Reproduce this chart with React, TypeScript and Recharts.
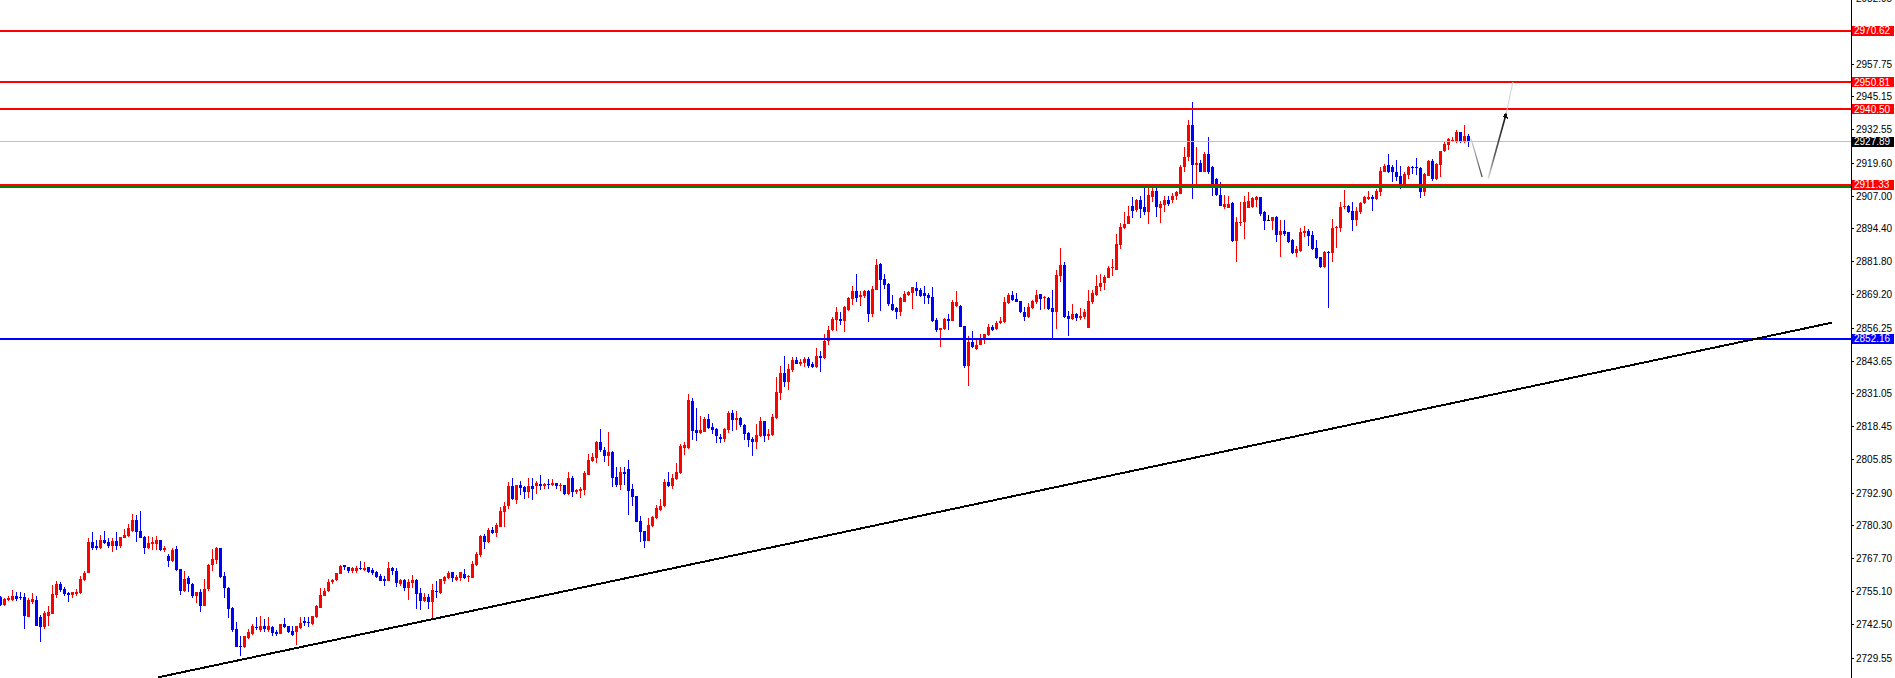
import React from "react";
import { Bar, ComposedChart, ReferenceLine, XAxis, YAxis } from "recharts";

const FONT = '"Liberation Sans", Arial, sans-serif';
const UP = "#ff0000";
const DOWN = "#0000ff";

// candles, oldest first
const opens = [
  2753.1, 2749.9, 2751.8, 2752.0, 2753.5, 2753.1, 2753.1, 2745.5, 2750.9, 2751.8,
  2745.2, 2741.6, 2745.8, 2746.4, 2753.7, 2758.0, 2756.0, 2754.4, 2753.9, 2754.0,
  2754.5, 2759.5, 2762.3, 2774.3, 2772.6, 2772.0, 2775.0, 2774.2, 2772.7, 2774.5,
  2772.7, 2775.8, 2776.5, 2778.2, 2782.5, 2778.2, 2776.1, 2771.8, 2773.3, 2773.3,
  2774.9, 2771.0, 2768.6, 2766.7, 2771.4, 2763.7, 2755.4, 2760.4, 2758.0, 2753.5,
  2755.0, 2749.4, 2756.0, 2765.4, 2767.2, 2771.7, 2761.2, 2756.4, 2748.7, 2740.7,
  2734.3, 2733.6, 2737.1, 2738.8, 2741.6, 2740.3, 2742.0, 2740.3, 2741.6, 2739.7,
  2738.8, 2742.6, 2742.0, 2739.8, 2739.7, 2741.1, 2743.8, 2743.5, 2742.6, 2745.2,
  2748.7, 2753.5, 2755.4, 2758.6, 2759.5, 2761.9, 2765.3, 2764.5, 2762.9, 2762.9,
  2764.2, 2763.5, 2764.4, 2763.4, 2762.7, 2761.2, 2759.9, 2759.2, 2764.1, 2763.1,
  2758.0, 2759.4, 2756.6, 2758.4, 2759.5, 2754.5, 2751.6, 2753.0, 2751.2, 2755.4,
  2754.5, 2759.3, 2760.3, 2762.5, 2759.6, 2760.3, 2761.8, 2760.6, 2760.3, 2765.3,
  2769.3, 2776.6, 2774.0, 2778.7, 2777.6, 2780.0, 2785.8, 2787.8, 2795.8, 2790.2,
  2796.0, 2795.4, 2793.5, 2795.8, 2795.8, 2796.4, 2795.8, 2796.4, 2796.0, 2796.7,
  2795.8, 2796.0, 2792.6, 2798.7, 2793.2, 2793.8, 2794.1, 2800.0, 2805.4, 2806.4,
  2812.7, 2809.5, 2807.3, 2808.8, 2799.0, 2796.0, 2801.1, 2802.2, 2794.5, 2791.7,
  2782.3, 2778.5, 2774.6, 2780.1, 2783.2, 2786.5, 2787.8, 2797.3, 2795.5, 2798.3,
  2800.7, 2810.1, 2810.1, 2828.4, 2817.2, 2815.9, 2816.5, 2821.4, 2818.2, 2817.6,
  2814.6, 2813.7, 2817.3, 2823.7, 2821.0, 2821.6, 2819.1, 2816.0, 2813.7, 2812.7,
  2814.7, 2820.6, 2814.7, 2815.3, 2821.6, 2831.4, 2839.1, 2835.7, 2840.3, 2844.2,
  2842.5, 2842.9, 2844.4, 2842.4, 2841.5, 2845.7, 2844.7, 2851.2, 2855.6, 2859.5,
  2859.8, 2859.2, 2863.4, 2867.5, 2870.7, 2868.1, 2868.8, 2870.7, 2861.7, 2870.9,
  2880.9, 2875.2, 2873.2, 2865.5, 2863.9, 2862.6, 2866.2, 2869.0, 2869.8, 2871.7,
  2870.9, 2869.8, 2869.0, 2868.4, 2859.4, 2855.6, 2855.9, 2859.8, 2859.2, 2864.9,
  2864.9, 2857.2, 2841.9, 2851.1, 2848.3, 2849.8, 2852.5, 2853.6, 2856.9, 2856.0,
  2858.1, 2858.5, 2866.0, 2869.2, 2867.5, 2866.6, 2862.6, 2860.4, 2864.0, 2866.2,
  2869.4, 2867.7, 2867.9, 2864.0, 2862.6, 2876.4, 2880.5, 2861.1, 2859.8, 2861.7,
  2860.2, 2860.4, 2856.4, 2866.2, 2869.2, 2872.0, 2873.5, 2875.7, 2879.3, 2878.8,
  2888.2, 2894.6, 2896.3, 2903.3, 2901.8, 2905.6, 2902.7, 2901.0, 2906.5, 2909.1,
  2902.3, 2903.6, 2905.5, 2905.6, 2906.9, 2907.8, 2918.1, 2921.9, 2934.4, 2918.9,
  2919.7, 2916.4, 2923.2, 2918.3, 2913.6, 2907.4, 2902.7, 2902.4, 2904.2, 2889.6,
  2896.6, 2896.9, 2902.4, 2902.7, 2905.6, 2906.5, 2900.8, 2897.9, 2897.6, 2899.1,
  2892.2, 2893.7, 2893.1, 2890.3, 2885.2, 2885.8, 2892.7, 2893.5, 2892.2, 2887.1,
  2883.5, 2879.6, 2885.7, 2885.2, 2894.6, 2894.6, 2902.7, 2903.3, 2901.4, 2898.0,
  2901.0, 2904.2, 2905.9, 2906.5, 2905.9, 2908.7, 2916.4, 2918.9, 2918.3, 2916.4,
  2914.9, 2911.7, 2915.1, 2918.3, 2918.3, 2917.8, 2908.7, 2914.9, 2920.6, 2913.6,
  2918.9, 2924.2, 2926.8, 2928.0, 2927.7, 2931.8, 2927.9, 2930.2,
];

const highs = [
  2753.5, 2752.5, 2753.5, 2755.7, 2755.0, 2754.8, 2754.4, 2752.7, 2754.4, 2753.2,
  2746.1, 2747.5, 2749.6, 2757.6, 2759.2, 2758.6, 2756.7, 2755.0, 2755.0, 2756.0,
  2760.9, 2763.1, 2775.5, 2777.8, 2775.0, 2776.8, 2778.3, 2775.5, 2775.5, 2777.8,
  2776.1, 2779.1, 2781.0, 2784.8, 2784.5, 2786.0, 2776.5, 2776.3, 2775.9, 2776.3,
  2775.0, 2772.7, 2769.5, 2771.7, 2772.7, 2763.7, 2763.1, 2760.9, 2758.2, 2755.0,
  2756.0, 2759.9, 2765.6, 2771.4, 2772.3, 2772.0, 2762.7, 2756.7, 2749.3, 2743.5,
  2738.1, 2738.1, 2740.7, 2742.5, 2745.2, 2745.8, 2744.5, 2745.5, 2742.0, 2740.3,
  2742.6, 2745.0, 2742.0, 2742.0, 2742.0, 2745.2, 2745.2, 2745.2, 2745.8, 2749.9,
  2756.3, 2756.3, 2759.9, 2760.1, 2762.2, 2765.3, 2765.3, 2764.5, 2764.6, 2765.0,
  2766.7, 2766.3, 2764.4, 2764.0, 2763.1, 2761.7, 2761.2, 2766.5, 2764.4, 2764.0,
  2759.9, 2759.9, 2759.9, 2761.4, 2759.9, 2756.5, 2754.5, 2754.2, 2758.0, 2759.3,
  2759.9, 2761.2, 2763.0, 2762.5, 2761.6, 2762.7, 2763.8, 2761.6, 2766.7, 2770.2,
  2776.9, 2777.2, 2779.4, 2779.8, 2781.3, 2787.4, 2789.4, 2797.0, 2798.7, 2796.0,
  2797.7, 2795.8, 2798.7, 2798.7, 2797.4, 2799.8, 2796.9, 2798.3, 2798.3, 2796.8,
  2796.7, 2796.0, 2801.0, 2799.5, 2794.5, 2795.4, 2801.3, 2807.9, 2808.3, 2813.0,
  2817.5, 2810.5, 2816.5, 2809.2, 2802.8, 2802.8, 2802.8, 2805.6, 2796.4, 2791.9,
  2784.2, 2778.5, 2783.3, 2784.2, 2788.3, 2790.6, 2798.3, 2800.9, 2800.3, 2804.5,
  2811.8, 2812.4, 2831.0, 2829.4, 2825.6, 2822.4, 2822.0, 2823.3, 2819.9, 2817.8,
  2815.6, 2817.8, 2824.3, 2824.8, 2824.6, 2822.0, 2819.5, 2816.5, 2814.6, 2819.5,
  2822.0, 2820.6, 2817.6, 2823.3, 2837.6, 2841.9, 2845.7, 2842.5, 2845.1, 2845.3,
  2844.4, 2845.3, 2845.1, 2843.1, 2848.5, 2847.6, 2854.0, 2857.0, 2860.7, 2864.3,
  2862.3, 2864.9, 2868.4, 2872.3, 2877.1, 2870.7, 2870.9, 2870.9, 2872.6, 2882.8,
  2881.5, 2877.1, 2873.5, 2869.0, 2864.3, 2868.1, 2870.7, 2870.7, 2871.9, 2873.9,
  2871.6, 2872.6, 2869.6, 2871.9, 2860.0, 2856.3, 2860.2, 2861.7, 2867.1, 2870.7,
  2865.3, 2857.2, 2853.4, 2855.3, 2852.1, 2854.0, 2854.0, 2857.9, 2857.6, 2859.2,
  2860.7, 2868.1, 2869.8, 2870.7, 2869.8, 2866.9, 2864.3, 2866.0, 2867.2, 2871.0,
  2869.4, 2868.8, 2868.1, 2871.0, 2878.6, 2887.1, 2881.6, 2862.8, 2865.6, 2862.1,
  2863.9, 2863.6, 2871.0, 2871.0, 2876.7, 2877.1, 2876.7, 2880.3, 2882.8, 2892.4,
  2896.6, 2901.0, 2903.3, 2906.5, 2905.9, 2907.2, 2911.0, 2911.0, 2911.3, 2911.0,
  2905.0, 2906.9, 2907.2, 2908.2, 2909.1, 2918.9, 2925.7, 2936.2, 2943.0, 2926.0,
  2921.0, 2923.8, 2929.8, 2918.7, 2913.8, 2912.6, 2907.4, 2906.9, 2904.6, 2898.9,
  2904.6, 2906.9, 2908.7, 2906.8, 2907.2, 2906.5, 2901.2, 2899.9, 2899.1, 2899.5,
  2898.0, 2898.0, 2893.1, 2890.5, 2888.0, 2894.6, 2895.6, 2894.4, 2893.7, 2890.3,
  2883.5, 2885.8, 2885.8, 2898.2, 2895.6, 2904.6, 2909.5, 2903.7, 2904.6, 2902.7,
  2904.6, 2906.9, 2909.1, 2907.4, 2909.7, 2918.1, 2919.3, 2923.2, 2918.9, 2921.0,
  2918.7, 2916.1, 2918.7, 2918.7, 2921.5, 2918.3, 2915.9, 2921.0, 2921.3, 2919.6,
  2924.5, 2927.7, 2929.3, 2929.6, 2932.4, 2931.8, 2934.3, 2930.9,
];

const lows = [
  2749.6, 2749.6, 2751.3, 2751.6, 2751.6, 2751.8, 2740.7, 2745.2, 2750.5, 2742.0,
  2735.8, 2740.7, 2742.0, 2746.4, 2752.5, 2754.8, 2753.2, 2751.2, 2752.5, 2753.5,
  2754.3, 2759.2, 2762.3, 2771.1, 2771.1, 2771.4, 2773.3, 2772.0, 2770.1, 2771.1,
  2771.9, 2775.5, 2775.9, 2778.1, 2774.0, 2775.5, 2769.5, 2771.4, 2771.1, 2771.1,
  2770.8, 2770.1, 2764.7, 2766.3, 2763.1, 2753.7, 2755.0, 2755.1, 2752.5, 2750.7,
  2747.3, 2749.4, 2755.4, 2763.1, 2765.6, 2760.4, 2752.5, 2744.8, 2739.4, 2733.6,
  2730.4, 2733.5, 2736.8, 2738.4, 2740.4, 2739.4, 2739.4, 2739.4, 2738.1, 2737.9,
  2738.6, 2741.1, 2739.1, 2738.1, 2734.5, 2740.7, 2741.7, 2741.3, 2742.2, 2745.0,
  2748.6, 2753.2, 2755.0, 2758.0, 2759.1, 2761.8, 2763.5, 2762.4, 2762.4, 2762.2,
  2763.5, 2763.1, 2762.2, 2761.4, 2760.4, 2759.1, 2757.3, 2759.2, 2761.4, 2756.9,
  2757.4, 2755.4, 2752.0, 2756.3, 2748.4, 2748.1, 2750.9, 2748.4, 2744.8, 2752.6,
  2754.0, 2758.1, 2759.9, 2758.9, 2759.1, 2759.1, 2759.9, 2758.9, 2760.2, 2765.0,
  2768.5, 2771.4, 2773.6, 2777.2, 2776.2, 2779.8, 2780.0, 2786.8, 2790.4, 2788.7,
  2792.2, 2790.6, 2790.9, 2790.4, 2792.6, 2794.1, 2794.5, 2794.5, 2795.8, 2794.5,
  2793.7, 2792.2, 2792.2, 2791.5, 2792.6, 2791.1, 2792.2, 2800.0, 2804.7, 2804.5,
  2808.6, 2805.0, 2803.2, 2795.4, 2795.4, 2794.2, 2796.1, 2784.5, 2787.8, 2782.0,
  2774.3, 2771.8, 2774.4, 2779.8, 2783.0, 2786.2, 2787.4, 2795.1, 2794.5, 2798.1,
  2800.3, 2807.6, 2809.9, 2813.3, 2813.1, 2815.6, 2816.3, 2817.6, 2815.6, 2812.2,
  2812.2, 2812.7, 2816.0, 2816.9, 2817.3, 2818.2, 2813.3, 2810.8, 2807.3, 2809.9,
  2814.3, 2812.7, 2813.3, 2815.0, 2821.4, 2828.8, 2833.8, 2832.7, 2839.6, 2842.5,
  2841.9, 2841.2, 2841.0, 2840.8, 2841.0, 2839.6, 2844.4, 2849.8, 2855.3, 2855.0,
  2857.6, 2854.9, 2863.0, 2865.2, 2866.2, 2864.9, 2867.7, 2858.5, 2860.4, 2870.9,
  2863.0, 2871.3, 2864.9, 2863.0, 2859.8, 2860.8, 2866.2, 2868.5, 2863.6, 2868.5,
  2868.1, 2865.5, 2865.5, 2858.8, 2854.7, 2849.2, 2855.7, 2855.7, 2859.0, 2864.6,
  2856.6, 2841.0, 2834.2, 2848.5, 2848.0, 2849.8, 2850.2, 2853.4, 2855.0, 2855.7,
  2857.8, 2858.3, 2865.6, 2866.6, 2866.2, 2862.1, 2858.9, 2860.2, 2863.6, 2865.6,
  2863.3, 2863.6, 2863.3, 2852.5, 2856.0, 2873.9, 2860.2, 2853.4, 2859.5, 2859.2,
  2859.5, 2859.8, 2856.4, 2865.6, 2868.8, 2870.7, 2871.1, 2875.4, 2876.2, 2878.6,
  2886.7, 2894.4, 2896.3, 2898.5, 2901.0, 2898.5, 2899.8, 2896.3, 2904.6, 2898.9,
  2896.7, 2901.0, 2903.3, 2904.4, 2905.6, 2907.8, 2916.1, 2920.6, 2905.9, 2911.7,
  2916.1, 2916.1, 2915.5, 2907.2, 2907.2, 2903.3, 2902.1, 2902.3, 2889.3, 2881.8,
  2895.7, 2890.5, 2902.3, 2902.4, 2902.7, 2899.5, 2894.1, 2897.6, 2894.1, 2889.3,
  2883.8, 2891.8, 2889.0, 2884.8, 2883.8, 2885.4, 2891.2, 2888.0, 2886.4, 2882.9,
  2879.3, 2879.4, 2864.0, 2881.8, 2887.0, 2893.4, 2902.1, 2900.5, 2893.7, 2895.7,
  2900.1, 2904.0, 2905.6, 2901.4, 2905.6, 2907.2, 2916.1, 2915.9, 2912.6, 2912.8,
  2909.7, 2911.0, 2913.6, 2915.5, 2915.1, 2906.2, 2906.9, 2914.6, 2912.9, 2913.3,
  2914.2, 2924.1, 2924.7, 2928.0, 2927.3, 2927.4, 2927.6, 2925.7,
];

const closes = [
  2749.9, 2752.2, 2752.6, 2753.5, 2752.2, 2752.5, 2745.8, 2751.8, 2752.2, 2742.0,
  2741.6, 2746.7, 2747.1, 2754.1, 2758.0, 2755.8, 2754.1, 2753.9, 2754.8, 2755.0,
  2759.9, 2762.4, 2774.3, 2772.0, 2771.9, 2775.0, 2773.7, 2772.7, 2774.5, 2772.7,
  2776.1, 2776.8, 2779.4, 2782.5, 2777.9, 2775.6, 2772.0, 2773.6, 2774.2, 2775.0,
  2771.1, 2772.0, 2766.9, 2771.1, 2763.5, 2755.4, 2759.9, 2758.0, 2753.5, 2755.0,
  2749.6, 2756.0, 2765.4, 2767.6, 2771.7, 2760.8, 2756.3, 2748.4, 2740.3, 2733.9,
  2733.9, 2737.9, 2739.7, 2742.0, 2740.9, 2742.0, 2740.7, 2742.0, 2739.1, 2738.9,
  2742.5, 2741.6, 2739.7, 2738.5, 2742.0, 2743.2, 2743.2, 2743.0, 2745.8, 2749.4,
  2753.7, 2755.4, 2758.6, 2759.6, 2762.2, 2765.0, 2764.4, 2762.8, 2764.0, 2764.2,
  2763.7, 2764.2, 2762.7, 2762.2, 2760.8, 2759.2, 2759.2, 2764.1, 2762.9, 2758.2,
  2759.5, 2756.6, 2758.9, 2759.6, 2754.2, 2751.6, 2753.0, 2751.2, 2755.8, 2755.0,
  2759.9, 2760.8, 2762.2, 2760.3, 2760.8, 2762.5, 2760.3, 2760.9, 2765.7, 2769.6,
  2776.6, 2774.0, 2778.9, 2777.6, 2780.8, 2786.2, 2788.1, 2795.8, 2790.6, 2796.0,
  2794.9, 2793.5, 2795.5, 2794.5, 2796.7, 2795.8, 2796.4, 2796.0, 2796.8, 2795.8,
  2796.0, 2792.6, 2798.7, 2793.2, 2794.1, 2794.5, 2800.6, 2805.6, 2806.6, 2812.7,
  2809.5, 2807.3, 2808.8, 2798.7, 2796.2, 2801.1, 2800.2, 2793.9, 2791.5, 2782.0,
  2778.1, 2774.6, 2780.7, 2783.9, 2787.1, 2788.1, 2797.0, 2795.8, 2798.6, 2801.2,
  2811.2, 2811.5, 2828.7, 2816.6, 2816.0, 2817.2, 2821.4, 2817.9, 2817.2, 2814.7,
  2813.8, 2817.6, 2823.7, 2821.0, 2821.6, 2819.1, 2815.6, 2813.5, 2812.7, 2815.3,
  2820.6, 2814.7, 2815.6, 2822.0, 2831.6, 2839.1, 2835.7, 2840.6, 2844.0, 2842.5,
  2843.2, 2844.4, 2841.9, 2841.2, 2845.7, 2844.7, 2851.5, 2855.7, 2859.8, 2862.6,
  2859.2, 2864.3, 2867.7, 2870.7, 2867.9, 2869.0, 2870.7, 2861.7, 2871.3, 2880.6,
  2874.8, 2873.0, 2865.5, 2863.4, 2862.6, 2867.7, 2869.4, 2870.3, 2871.9, 2870.4,
  2868.8, 2868.5, 2868.0, 2859.2, 2855.6, 2856.3, 2859.8, 2858.9, 2866.4, 2866.2,
  2856.8, 2841.9, 2850.8, 2848.9, 2849.8, 2852.5, 2854.0, 2856.6, 2855.6, 2858.3,
  2859.2, 2866.5, 2869.2, 2867.1, 2866.5, 2862.4, 2860.7, 2864.5, 2866.6, 2869.2,
  2867.5, 2868.1, 2863.6, 2862.6, 2876.7, 2880.5, 2860.4, 2859.8, 2861.7, 2860.2,
  2861.1, 2862.6, 2866.8, 2869.6, 2872.6, 2873.6, 2876.1, 2879.4, 2879.9, 2888.6,
  2895.0, 2896.3, 2899.5, 2901.4, 2905.6, 2902.1, 2901.0, 2907.6, 2909.1, 2902.7,
  2904.0, 2905.5, 2904.0, 2907.2, 2908.5, 2918.3, 2921.9, 2934.4, 2918.9, 2919.7,
  2916.4, 2923.2, 2916.1, 2911.0, 2907.4, 2903.3, 2904.0, 2904.0, 2889.6, 2896.9,
  2897.2, 2904.9, 2905.3, 2906.3, 2906.5, 2900.1, 2897.6, 2897.9, 2899.1, 2892.2,
  2893.7, 2892.5, 2889.3, 2885.2, 2886.7, 2893.1, 2893.5, 2891.8, 2886.7, 2883.1,
  2879.6, 2885.7, 2885.2, 2894.8, 2895.3, 2903.0, 2903.3, 2901.0, 2898.0, 2901.4,
  2904.4, 2906.5, 2906.5, 2905.9, 2909.1, 2916.8, 2918.4, 2916.1, 2916.1, 2914.5,
  2911.7, 2915.5, 2918.3, 2918.1, 2918.1, 2908.5, 2915.4, 2920.6, 2913.6, 2919.3,
  2924.2, 2927.0, 2928.9, 2928.6, 2931.8, 2927.7, 2930.2, 2927.89,
];

const axisTicks = [
  2982.95, 2957.75, 2945.15, 2932.55, 2919.6, 2907.0, 2894.4, 2881.8, 2869.2, 2856.25,
  2843.65, 2831.05, 2818.45, 2805.85, 2792.9, 2780.3, 2767.7, 2755.1, 2742.5, 2729.55,
];

const redLevels = [2970.62, 2950.81, 2940.5, 2911.33];
const greenLevel = 2910.6;
const bidLevel = 2927.89;
const blueLevel = 2852.16;

const trendLine = [
  { x: 39.45, y: 2722.15 },
  { x: 457.9, y: 2858.4 },
];
const arrowDown = [
  { x: 367.6, y: 2929.3 },
  { x: 370.4, y: 2914.35 },
];
const arrowUp = [
  { x: 371.9, y: 2913.6 },
  { x: 376.4, y: 2938.55 },
];
const arrowTail = [
  { x: 376.4, y: 2938.55 },
  { x: 378.1, y: 2950.85 },
];

const candles = closes.map((c, i) => ({
  i,
  open: opens[i],
  high: highs[i],
  low: lows[i],
  close: c,
  range: [lows[i], highs[i]],
}));

function Candle(props: any) {
  const { x, y, width, height, payload } = props;
  if (x == null || !payload) return null;
  const top = Math.min(y, y + height);
  const h = Math.abs(height);
  const span = payload.high - payload.low;
  const ppu = span > 0 ? h / span : 0;
  const yO = top + (payload.high - payload.open) * ppu;
  const yC = top + (payload.high - payload.close) * ppu;
  const color =
    payload.close > payload.open ? UP : payload.close < payload.open ? DOWN : "#000000";
  const cx = x + width / 2;
  return (
    <g>
      <rect x={cx - 0.5} y={top} width={1} height={Math.max(h, 1)} fill={color} />
      <rect
        x={cx - 1.5}
        y={Math.min(yO, yC)}
        width={3}
        height={Math.max(1, Math.abs(yO - yC))}
        fill={color}
      />
    </g>
  );
}

function tag(text: string, fill: string) {
  return (p: any) => {
    const vb = p.viewBox;
    const x = vb.x + vb.width + 1;
    return (
      <g>
        <rect x={x} y={Math.round(vb.y) - 5} width={42} height={10} fill={fill} />
        <text x={x + 2} y={vb.y} dy="0.36em" fill="#ffffff" fontSize={10} fontFamily={FONT}>
          {text}
        </text>
      </g>
    );
  };
}

function SoftLine(props: any) {
  const { x1, y1, x2, y2, stroke, strokeWidth, marker } = props;
  return (
    <line
      x1={x1}
      y1={y1}
      x2={x2}
      y2={y2}
      stroke={stroke}
      strokeWidth={strokeWidth}
      shapeRendering="geometricPrecision"
      markerEnd={marker ? "url(#arrowHead)" : undefined}
    />
  );
}

export default function App() {
  return (
    <div style={{ position: "absolute", left: 0, top: 0, background: "#ffffff", fontFamily: FONT }}>
      <ComposedChart
        width={1895}
        height={678}
        data={candles}
        margin={{ top: 0, right: 0, bottom: 0, left: 0 }}
        style={{ shapeRendering: "crispEdges" }}
      >
        <defs>
          <linearGradient id="fadeDown" x1="0" y1="0" x2="0" y2="1">
            <stop offset="0%" stopColor="#d8d8d8" />
            <stop offset="100%" stopColor="#404040" />
          </linearGradient>
          <linearGradient id="fadeUp" x1="0" y1="1" x2="0" y2="0">
            <stop offset="0%" stopColor="#e0e0e0" />
            <stop offset="35%" stopColor="#606060" />
            <stop offset="100%" stopColor="#111111" />
          </linearGradient>
          <marker id="arrowHead" markerWidth="6" markerHeight="6" refX="4" refY="3" orient="auto" markerUnits="userSpaceOnUse">
            <path d="M0,0 L6,3 L0,6 z" fill="#111111" />
          </marker>
        </defs>
        <XAxis dataKey="i" type="number" domain={[-0.125, 462.625]} hide allowDataOverflow />
        <YAxis
          orientation="right"
          width={44}
          domain={[2721.88, 2982.35]}
          allowDataOverflow
          ticks={axisTicks}
          interval={0}
          tickSize={3}
          tickMargin={2}
          axisLine={{ stroke: "#000000" }}
          tickLine={{ stroke: "#000000" }}
          tick={{ fill: "#000000", fontSize: 10, fontFamily: FONT }}
          tickFormatter={(v: number) => v.toFixed(2)}
        />
        <Bar dataKey="range" barSize={3} shape={Candle} isAnimationActive={false} />
        <ReferenceLine y={bidLevel} stroke="#c0c0c0" strokeWidth={1} label={tag(bidLevel.toFixed(2), "#000000")} />
        <ReferenceLine y={greenLevel} stroke="#008000" strokeWidth={2} />
        {redLevels.map((v) => (
          <ReferenceLine key={v} y={v} stroke="#ff0000" strokeWidth={2} label={tag(v.toFixed(2), "#ff0000")} />
        ))}
        <ReferenceLine y={blueLevel} stroke="#0000ff" strokeWidth={2} label={tag(blueLevel.toFixed(2), "#0000ff")} />
        <ReferenceLine segment={trendLine} stroke="#000000" strokeWidth={2} ifOverflow="visible" />
        <ReferenceLine segment={arrowDown} stroke="url(#fadeDown)" strokeWidth={1.2} ifOverflow="visible" shape={SoftLine} />
        <ReferenceLine segment={arrowUp} stroke="url(#fadeUp)" strokeWidth={1.6} ifOverflow="visible" shape={(p: any) => <SoftLine {...p} marker />} />
        <ReferenceLine segment={arrowTail} stroke="#d0d0d0" strokeWidth={1} ifOverflow="visible" shape={SoftLine} />
      </ComposedChart>
    </div>
  );
}
